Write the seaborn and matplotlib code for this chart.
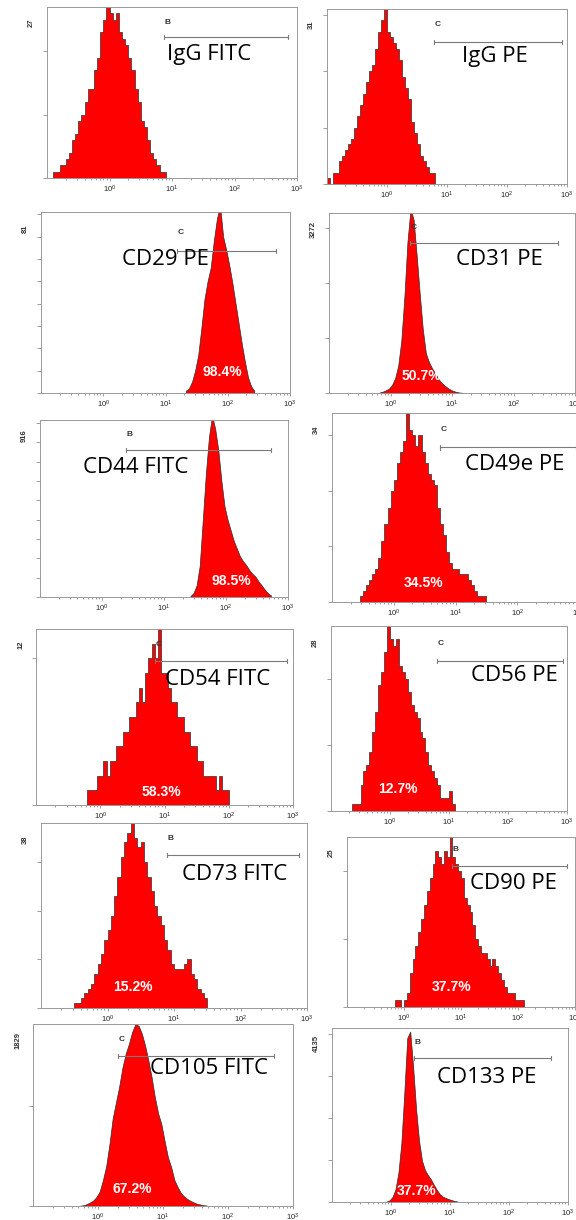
import matplotlib
matplotlib.use("Agg")
import matplotlib.pyplot as plt
import numpy as np
import pandas as pd
import seaborn as sns
from matplotlib.ticker import FixedLocator, LogLocator, MultipleLocator, NullFormatter

# Panel names, gate letters and % positive
markers = ["IgG FITC", "IgG PE", "CD29 PE", "CD31 PE", "CD44 FITC", "CD49e PE",
           "CD54 FITC", "CD56 PE", "CD73 FITC", "CD90 PE", "CD105 FITC", "CD133 PE"]
gate_names = ["B", "C", "C", "C", "B", "C", "C", "C", "B", "B", "C", "B"]
percents = [None, None, "98.4%", "50.7%", "98.5%", "34.5%",
            "58.3%", "12.7%", "15.2%", "37.7%", "67.2%", "37.7%"]

# y scale max (the number printed on the y axis) and tick step
y_max = [27, 31, 81, 3272, 916, 34, 12, 28, 38, 25, 1829, 4135]
y_step = [10, 10, 10, 1000, 100, 10, 10, 10, 10, 10, 1000, 1000]

# gate limits (fluorescence units)
gate_lo = [7.4, 6.1, 15.3, 2.1, 2.44, 5.6, 7.1, 6.2, 7.8, 6.9, 2.05, 2.45]
gate_hi = [720, 830, 600, 520, 525, 900, 800, 850, 760, 715, 510, 525]

# histogram counts, bins of 0.05 decade starting at log10 value bin_start
bin_start = [-0.9, -1.0, 1.3, -0.2, 1.4, -0.55, -0.2, -0.65, -0.5, -0.15, -0.3, -0.1]
igg_fitc = [1, 1, 2, 2, 3, 4, 6, 7, 9, 10, 12, 14, 14, 17, 19, 23, 25, 28, 26, 25,
            26, 23, 22, 21, 19, 17, 14, 12, 9, 8, 6, 4, 3, 2, 1, 1]
igg_pe = [1, 0, 2, 2, 4, 5, 6, 7, 8, 10, 12, 14, 16, 18, 20, 21, 24, 27, 29, 32,
          27, 26, 25, 24, 22, 19, 17, 15, 11, 9, 7, 5, 4, 3, 2, 2]
cd29 = [1, 2, 5, 10, 17, 29, 42, 50, 56, 68, 78, 84, 70, 64, 57, 49, 40, 31, 22,
        14, 7, 3, 1]
cd31 = [10, 25, 50, 80, 150, 270, 500, 950, 1750, 2750, 3350, 3150, 2500, 1800,
        1150, 720, 560, 450, 360, 260, 190, 140, 95, 60, 35, 18, 8, 3]
cd44 = [5, 20, 60, 160, 400, 640, 830, 940, 870, 760, 600, 470, 400, 345, 290, 250,
        210, 185, 165, 140, 120, 105, 80, 60, 38, 20, 8]
cd49e = [1, 2, 3, 4, 5, 6, 8, 11, 14, 17, 20, 22, 25, 27, 29, 34, 31, 30, 28, 30,
         27, 25, 23, 22, 21, 17, 14, 12, 9, 7, 6, 6, 5, 5, 5, 4, 3, 2, 1, 1, 1]
cd54 = [1, 1, 1, 2, 2, 3, 2, 3, 3, 4, 4, 5, 5, 6, 6, 7, 8, 7, 9, 10, 11, 10, 12, 9,
        9, 8, 7, 7, 6, 6, 5, 5, 4, 4, 3, 3, 2, 2, 2, 2, 1, 2, 1, 1]
cd56 = [1, 1, 1, 4, 6, 7, 9, 12, 15, 19, 21, 24, 28, 26, 25, 26, 22, 21, 20, 18,
        16, 15, 14, 12, 11, 9, 7, 6, 5, 4, 2, 2, 2, 3, 1]
cd73 = [1, 1, 2, 3, 4, 5, 7, 9, 11, 14, 16, 19, 23, 27, 31, 34, 36, 38, 35, 33,
        34, 30, 27, 24, 21, 19, 17, 14, 12, 9, 8, 8, 8, 9, 10, 7, 6, 4, 3, 2]
cd90 = [1, 1, 0, 1, 2, 5, 7, 9, 11, 13, 15, 17, 19, 21, 23, 22, 21, 23, 22, 25,
        22, 21, 20, 19, 16, 15, 14, 12, 10, 9, 8, 8, 7, 6, 7, 6, 5, 4, 3, 2,
        2, 2, 1, 1, 1]
cd105 = [3, 8, 18, 35, 55, 90, 145, 260, 400, 620, 880, 1040, 1200, 1390, 1530,
         1630, 1750, 1830, 1810, 1730, 1610, 1460, 1290, 1090, 930, 820, 650, 490,
         390, 260, 190, 130, 95, 70, 50, 35, 22, 15, 8, 4]
cd133 = [10, 40, 120, 300, 700, 1400, 2600, 3900, 4050, 3200, 2200, 1450, 980, 760,
         640, 540, 410, 290, 190, 130, 95, 70, 45, 25, 12]
histograms = [igg_fitc, igg_pe, cd29, cd31, cd44, cd49e,
              cd54, cd56, cd73, cd90, cd105, cd133]
BIN = 0.05

# layout: panel boxes in pixels (left, top, right, bottom)
W, H = 576, 1220
boxes = [(47, 7, 297, 178), (327, 9, 567, 184),
         (41, 212, 290, 393), (329, 213, 575, 393),
         (40, 420, 288, 597), (332, 413, 579, 602),
         (36, 629, 293, 805), (331, 626, 567, 811),
         (41, 823, 307, 1008), (347, 837, 575, 1007),
         (33, 1024, 293, 1206), (332, 1028, 568, 1202)]
elements = ["step", "step", "poly", "poly", "poly", "step",
            "step", "step", "step", "step", "poly", "poly"]
gate_y = [0.825, 0.81, 0.785, 0.835, 0.83, 0.818, 0.818, 0.812, 0.827, 0.83, 0.824, 0.829]
letter_y = [0.912, 0.91, 0.884, 0.92, 0.919, 0.915, 0.913, 0.906, 0.917, 0.928, 0.916, 0.915]
label_pos = [(0.48, 0.725), (0.5625, 0.726), (0.325, 0.735), (0.515, 0.744),
             (0.175, 0.729), (0.538, 0.725), (0.502, 0.714), (0.593, 0.73),
             (0.529, 0.723), (0.539, 0.727), (0.45, 0.753), (0.443, 0.714)]
pct_pos = [None, None, (0.727, 0.116), (0.375, 0.096), (0.77, 0.09), (0.37, 0.099),
           (0.489, 0.076), (0.285, 0.119), (0.347, 0.115), (0.46, 0.116),
           (0.38, 0.093), (0.36, 0.063)]

sns.set_theme(style="ticks")
plt.rcParams["font.family"] = ["Liberation Sans", "DejaVu Sans"]

fig = plt.figure(figsize=(5.76, 12.2), dpi=100)
fig.patch.set_facecolor("white")

for i, name in enumerate(markers):
    l, t, r, b = boxes[i]
    ax = fig.add_axes([l / W, 1 - b / H, (r - l) / W, (b - t) / H])
    counts = histograms[i]
    n = len(counts)
    start = bin_start[i]
    centers = start + BIN * (np.arange(n) + 0.5)
    df = pd.DataFrame({"level": 10 ** centers, "count": counts})
    sns.histplot(data=df, x="level", weights="count", log_scale=True,
                 binwidth=BIN, binrange=(start, start + BIN * n),
                 element=elements[i], fill=True, color="#ff0000", alpha=1,
                 edgecolor="#2e2e2e", linewidth=0.5, ax=ax)
    ax.set_xlabel("")
    ax.set_ylabel("")
    ax.set_xlim(0.1, 1000)
    ax.set_ylim(0, y_max[i])

    # axes styling
    for sp in ax.spines.values():
        sp.set_color("#9a9a9a")
        sp.set_linewidth(0.7)
        sp.set_visible(True)
    ax.xaxis.set_major_locator(FixedLocator([1, 10, 100, 1000]))
    ax.set_xticklabels([r"$\mathregular{10^{0}}$", r"$\mathregular{10^{1}}$",
                        r"$\mathregular{10^{2}}$", r"$\mathregular{10^{3}}$"])
    ax.xaxis.set_minor_locator(LogLocator(base=10, subs=np.arange(2, 10), numticks=20))
    ax.xaxis.set_minor_formatter(NullFormatter())
    ax.yaxis.set_major_locator(MultipleLocator(y_step[i]))
    ax.yaxis.set_major_formatter(NullFormatter())
    ax.tick_params(axis="x", which="major", direction="out", length=2.5, width=0.5,
                   color="#777777", labelsize=5.5, pad=1.5, labelcolor="#222222")
    ax.tick_params(axis="x", which="minor", direction="out", length=1.6, width=0.5,
                   color="#777777")
    ax.tick_params(axis="y", which="major", direction="out", length=3, width=0.5,
                   color="#777777")
    ax.set_facecolor("white")
    ax.grid(False)

    # y max label
    ax.annotate(str(y_max[i]), xy=(0, 0.91), xycoords="axes fraction",
                xytext=(-11, 0), textcoords="offset points", rotation=90,
                ha="center", va="center", fontsize=5.5, fontweight="bold",
                color="#333333")

    # gate marker
    tr = ax.get_xaxis_transform()
    gy = gate_y[i]
    ax.plot([gate_lo[i], gate_hi[i]], [gy, gy], transform=tr, color="#7a7a7a",
            lw=0.8, zorder=5, clip_on=False)
    for gx in (gate_lo[i], gate_hi[i]):
        ax.plot([gx, gx], [gy - 0.012, gy + 0.012], transform=tr, color="#7a7a7a",
                lw=0.8, zorder=5, clip_on=False)
    ax.text(gate_lo[i] * 1.03, letter_y[i], gate_names[i], transform=tr,
            ha="left", va="center", fontsize=6, fontweight="bold",
            color="#333333", zorder=6)

    # marker name
    lx, ly = label_pos[i]
    ax.text(lx, ly, name, transform=ax.transAxes, ha="left", va="center",
            fontsize=16, family=["Open Sans", "DejaVu Sans"], color="black",
            zorder=7)

    # percentage positive
    if percents[i] is not None:
        px, py = pct_pos[i]
        ax.text(px, py, percents[i], transform=ax.transAxes, ha="center",
                va="center", fontsize=10, fontweight="bold", color="white",
                zorder=7)

fig.savefig("out.png", dpi=100, facecolor="white")
